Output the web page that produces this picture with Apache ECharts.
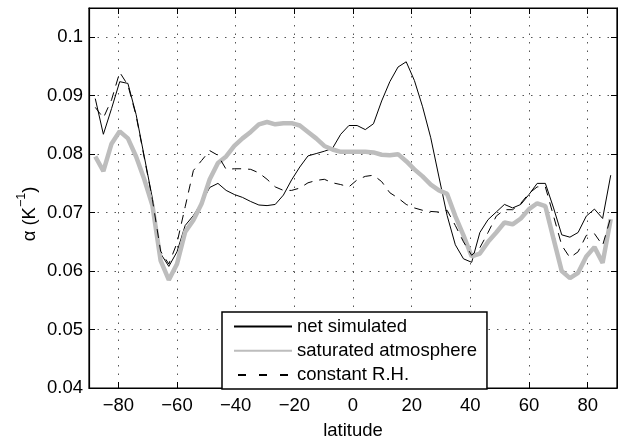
<!DOCTYPE html>
<html>
<head>
<meta charset="utf-8">
<script src="https://cdn.jsdelivr.net/npm/echarts@6/dist/echarts.min.js"></script>
<style>
  html, body { margin: 0; padding: 0; background: #fff; }
  #chart { width: 618px; height: 445px; }
</style>
</head>
<body>
<div id="chart"></div>
<script>
// latitudes of the model grid (deg)
const lat = [-87.86, -85.10, -82.31, -79.53, -76.74, -73.95, -71.16, -68.37, -65.58, -62.79,
  -60.00, -57.21, -54.42, -51.63, -48.84, -46.04, -43.25, -40.46, -37.67, -34.88,
  -32.09, -29.30, -26.51, -23.72, -20.93, -18.14, -15.35, -12.56, -9.77, -6.98,
  -4.19, -1.40, 1.40, 4.19, 6.98, 9.77, 12.56, 15.35, 18.14, 20.93,
  23.72, 26.51, 29.30, 32.09, 34.88, 37.67, 40.46, 43.25, 46.04, 48.84,
  51.63, 54.42, 57.21, 60.00, 62.79, 65.58, 68.37, 71.16, 73.95, 76.74,
  79.53, 82.31, 85.10, 87.86]

// net simulated
const netSimulated = [0.0895, 0.0834, 0.0878, 0.0924, 0.0921, 0.0868, 0.0796, 0.0724, 0.0630, 0.0608,
  0.0633, 0.0678, 0.0695, 0.0717, 0.0743, 0.0750, 0.0738, 0.0731, 0.0726, 0.0719,
  0.0713, 0.0712, 0.0714, 0.0730, 0.0756, 0.0778, 0.0797, 0.0801, 0.0805, 0.0810,
  0.0834, 0.0849, 0.0849, 0.0842, 0.0852, 0.0891, 0.0924, 0.0949, 0.0958, 0.0926,
  0.0881, 0.0828, 0.0761, 0.0695, 0.0645, 0.0621, 0.0615, 0.0666, 0.0688, 0.0701,
  0.0714, 0.0708, 0.0714, 0.0731, 0.0750, 0.0750, 0.0708, 0.0662, 0.0658, 0.0666,
  0.0694, 0.0706, 0.0690, 0.0764]

// saturated atmosphere
const saturated = [0.0796, 0.0771, 0.0818, 0.0839, 0.0827, 0.0796, 0.0757, 0.0712, 0.0618, 0.0585,
  0.0612, 0.0667, 0.0687, 0.0715, 0.0757, 0.0785, 0.0796, 0.0814, 0.0827, 0.0838,
  0.0851, 0.0855, 0.0851, 0.0853, 0.0853, 0.0849, 0.0838, 0.0827, 0.0814, 0.0808,
  0.0804, 0.0804, 0.0804, 0.0804, 0.0803, 0.0799, 0.0798, 0.0800, 0.0788, 0.0774,
  0.0762, 0.0748, 0.0738, 0.0732, 0.0694, 0.0661, 0.0625, 0.0630, 0.0650, 0.0666,
  0.0683, 0.0680, 0.0690, 0.0706, 0.0716, 0.0711, 0.0655, 0.0600, 0.0588, 0.0597,
  0.0625, 0.0641, 0.0614, 0.0689]

// constant R.H.
const constantRH = [0.0880, 0.0862, 0.0893, 0.0940, 0.0918, 0.0866, 0.0794, 0.0722, 0.0634, 0.0612,
  0.0648, 0.0710, 0.0772, 0.0789, 0.0806, 0.0798, 0.0774, 0.0775, 0.0775, 0.0774,
  0.0768, 0.0757, 0.0744, 0.0738, 0.0738, 0.0742, 0.0751, 0.0755, 0.0757, 0.0751,
  0.0748, 0.0744, 0.0756, 0.0762, 0.0764, 0.0753, 0.0734, 0.0725, 0.0714, 0.0708,
  0.0704, 0.0702, 0.0701, 0.0704, 0.0678, 0.0650, 0.0627, 0.0640, 0.0666, 0.0694,
  0.0705, 0.0705, 0.0716, 0.0733, 0.0744, 0.0744, 0.0694, 0.0644, 0.0623, 0.0633,
  0.0661, 0.0664, 0.0644, 0.0692]

const xTicks = [-80, -60, -40, -20, 0, 20, 40, 60, 80]
const seriesNames = ['net simulated', 'saturated atmosphere', 'constant R.H.']

const FONT = 'Liberation Sans, Arial, Helvetica, sans-serif'
const FS = 18.5

const pairs = vals => lat.map((x, i) => [x, vals[i]])

const chart = echarts.init(document.getElementById('chart'), null, { renderer: 'canvas' })

const gridLine = { show: true, lineStyle: { color: '#555', width: 1, type: [1.5, 7] } }

const option = {
  animation: false,
  backgroundColor: '#fff',
  grid: {
    left: 89, right: 1, top: 8, bottom: 49,
    show: true, borderColor: '#000', borderWidth: 1.2, backgroundColor: 'transparent'
  },
  legend: {
    orient: 'vertical',
    left: 222, top: 312,
    data: [
      { name: seriesNames[0] },
      { name: seriesNames[1] },
      { name: seriesNames[2], lineStyle: { type: [8, 13], dashOffset: -4 } } // sparser dashes in the key
    ],
    backgroundColor: '#fff',
    borderColor: '#000',
    borderWidth: 1.5,
    padding: [4.5, 10, 4, 11],
    itemGap: 4.2,
    itemWidth: 58,
    itemHeight: 14,
    itemStyle: { opacity: 0 }, // hide the symbol, keep only the line sample
    textStyle: { fontFamily: FONT, fontSize: FS, color: '#000', lineHeight: 20 }
  },
  graphic: [{
    type: 'text',
    x: 27, y: 214,
    rotation: Math.PI / 2,
    style: {
      text: '{a|α (K}{s|\u22121}{a|)}',
      align: 'center', verticalAlign: 'middle',
      rich: {
        a: { fontFamily: FONT, fontSize: FS, fill: '#000', lineHeight: 24, verticalAlign: 'bottom' },
        s: { fontFamily: FONT, fontSize: 12.5, fill: '#000', lineHeight: 24, verticalAlign: 'top' }
      }
    }
  }],
  xAxis: [{
    type: 'value', min: -90, max: 90,
    name: 'latitude', nameLocation: 'middle', nameGap: 33,
    nameTextStyle: { fontFamily: FONT, fontSize: FS, color: '#000' },
    axisLine: { show: true, onZero: false, lineStyle: { color: '#000', width: 1.2 } },
    axisTick: { show: true, inside: true, length: 6, customValues: xTicks, lineStyle: { color: '#000' } },
    axisLabel: {
      customValues: xTicks, margin: 8,
      fontFamily: FONT, fontSize: FS, color: '#000',
      formatter: v => String(v).replace('-', '\u2212')
    },
    splitLine: gridLine
  }, {
    type: 'value', min: -90, max: 90, position: 'top',
    axisLine: { show: true, onZero: false, lineStyle: { color: '#000', width: 1.2 } },
    axisTick: { show: true, inside: true, length: 6, customValues: xTicks, lineStyle: { color: '#000' } },
    axisLabel: { show: false },
    splitLine: { show: false }
  }],
  yAxis: [{
    type: 'value', min: 0.04, max: 0.105, interval: 0.01,
    axisLine: { show: true, onZero: false, lineStyle: { color: '#000', width: 1.2 } },
    axisTick: { show: true, inside: true, length: 6, lineStyle: { color: '#000' } },
    axisLabel: {
      margin: 6, showMaxLabel: false,
      fontFamily: FONT, fontSize: FS, color: '#000',
      formatter: v => String(Math.round(v * 1000) / 1000)
    },
    splitLine: gridLine
  }, {
    type: 'value', min: 0.04, max: 0.105, interval: 0.01, position: 'right',
    axisLine: { show: true, onZero: false, lineStyle: { color: '#000', width: 1.2 } },
    axisTick: { show: true, inside: true, length: 6, lineStyle: { color: '#000' } },
    axisLabel: { show: false },
    splitLine: { show: false }
  }],
  series: [{
    name: seriesNames[0], type: 'line', symbol: 'none',
    data: pairs(netSimulated),
    lineStyle: { color: '#000', width: 1 },
    itemStyle: { color: '#000' }
  }, {
    name: seriesNames[1], type: 'line', symbol: 'none',
    data: pairs(saturated),
    lineStyle: { color: '#bdbdbd', width: 4.5 },
    itemStyle: { color: '#bdbdbd' }
  }, {
    name: seriesNames[2], type: 'line', symbol: 'none',
    data: pairs(constantRH),
    lineStyle: { color: '#000', width: 1, type: [9, 7] },
    itemStyle: { color: '#000' }
  }]
}

chart.setOption(option)
</script>
</body>
</html>
